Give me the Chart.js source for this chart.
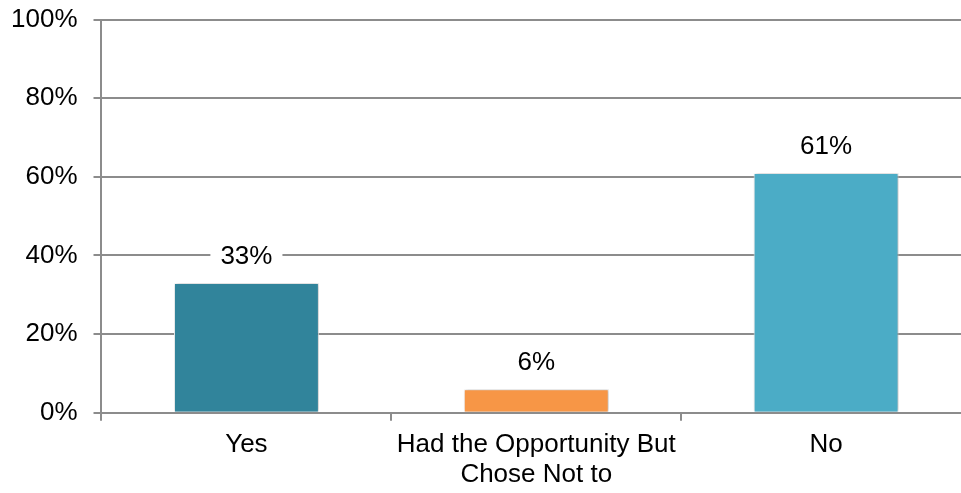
<!DOCTYPE html>
<html>
<head>
<meta charset="utf-8">
<script src="https://cdn.jsdelivr.net/npm/chart.js@4"></script>
<style>
html,body{margin:0;padding:0;background:#fff;overflow:hidden;width:961px;height:493px;}
#wrap{width:971px;height:515px;position:relative;margin-top:-12px;}
</style>
</head>
<body>
<div id="wrap"><canvas id="c"></canvas></div>
<script>
const categories = [["Yes"], ["Had the Opportunity But", "Chose Not to"], ["No"]];
const values = [33, 6, 61];
const valueLabels = ["33%", "6%", "61%"];
const barColors = ["#31849B", "#F79646", "#4BACC6"];
const yTicks = [0, 20, 40, 60, 80, 100];

const FONT = "'Liberation Sans', Arial, sans-serif";

const shadowPlugin = {
  id: 'barShadow',
  beforeDatasetDraw(chart) {
    const ctx = chart.ctx;
    ctx.save();
    ctx.shadowColor = 'rgba(0,0,0,0.28)';
    ctx.shadowBlur = 4;
    ctx.shadowOffsetX = 1;
    ctx.shadowOffsetY = 0;
  },
  afterDatasetDraw(chart) {
    chart.ctx.restore();
  }
};

const labelPlugin = {
  id: 'valueLabels',
  afterDatasetsDraw(chart) {
    const ctx = chart.ctx;
    const meta = chart.getDatasetMeta(0);
    ctx.save();
    ctx.font = "26px " + FONT;
    ctx.textAlign = 'center';
    ctx.textBaseline = 'middle';
    meta.data.forEach((bar, i) => {
      const txt = valueLabels[i];
      const w = ctx.measureText(txt).width;
      const cx = bar.x;
      const cy = bar.y - 26;
      ctx.fillStyle = '#fff';
      ctx.fillRect(cx - w / 2 - 10, cy - 15, w + 20, 30);
      ctx.fillStyle = '#000';
      ctx.fillText(txt, cx, cy);
    });
    ctx.restore();
  }
};

new Chart(document.getElementById('c'), {
  type: 'bar',
  data: {
    labels: categories,
    datasets: [{
      data: values,
      backgroundColor: barColors,
      borderColor: '#ffffff',
      borderWidth: 1,
      barPercentage: 0.5,
      categoryPercentage: 1.0
    }]
  },
  options: {
    responsive: true,
    maintainAspectRatio: false,
    animation: false,
    devicePixelRatio: 1,
    layout: { padding: { left: -5, right: 0, top: -3, bottom: 4 } },
    plugins: {
      legend: { display: false },
      tooltip: { enabled: false }
    },
    scales: {
      x: {
        offset: true,
        grid: {
          offset: true,
          drawOnChartArea: false,
          drawTicks: true,
          tickLength: 8,
          color: '#8c8c8c',
          lineWidth: 2
        },
        border: { display: true, color: '#8c8c8c', width: 2 },
        ticks: {
          color: '#000',
          font: { family: FONT, size: 26, lineHeight: 1.12 },
          padding: 10,
          maxRotation: 0,
          autoSkip: false
        }
      },
      y: {
        min: 0,
        max: 100,
        afterBuildTicks(axis) { axis.ticks = yTicks.map(v => ({ value: v })); },
        grid: {
          color: '#8c8c8c',
          lineWidth: 2,
          drawTicks: true,
          tickLength: 8
        },
        border: { display: true, color: '#8c8c8c', width: 2 },
        ticks: {
          color: '#000',
          font: { family: FONT, size: 26 },
          padding: 16,
          callback: v => v + '%'
        }
      }
    }
  },
  plugins: [shadowPlugin, labelPlugin]
});
</script>
</body>
</html>
